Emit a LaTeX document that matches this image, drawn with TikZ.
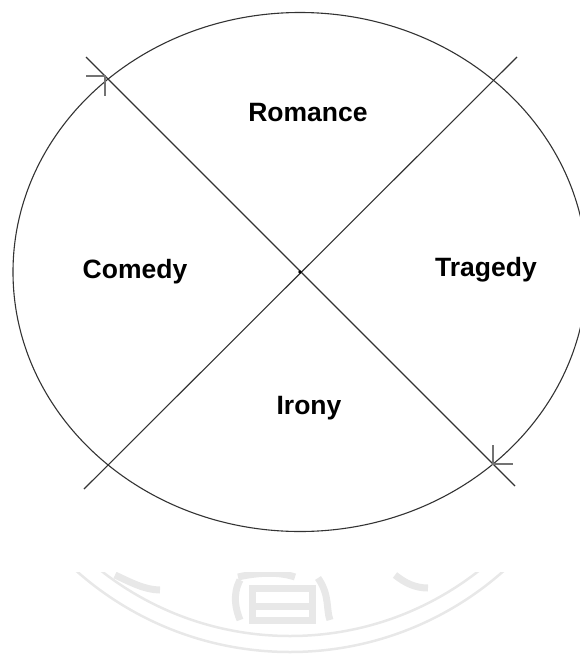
\documentclass[tikz,border=0pt]{standalone}
\usepackage{fontspec}
\setmainfont{Liberation Sans}
\begin{document}
\begin{tikzpicture}[x=1pt,y=-1pt,
  genre/.style={font=\fontsize{26.5}{31}\selectfont\bfseries},
  axis/.style={line width=1.1pt,black!80},
  tick/.style={line width=1.8pt,black!55},
  seal/.style={line width=2.5pt,black!9},
  sealglyph/.style={line width=7pt,black!9}]
  \useasboundingbox (0,0) rectangle (579,656);
  % faint seal below the figure
  \begin{scope}
    \clip (0,572) rectangle (579,656);
    \draw[seal] (290,330) circle (322pt);
    \draw[seal] (290,330) circle (306pt);
    \draw[sealglyph] (115,575) .. controls (130,582) and (145,590) .. (160,590);
    \draw[sealglyph] (395,575) .. controls (405,583) and (415,588) .. (428,588);
    \draw[sealglyph] (238,577) .. controls (260,572) and (280,572) .. (295,577);
    \draw[sealglyph] (240,580) .. controls (232,595) and (236,610) .. (240,620);
    \draw[sealglyph] (252,588) rectangle (312,620);
    \draw[sealglyph] (252,606) -- (312,606);
    \draw[sealglyph] (318,578) .. controls (330,595) and (326,610) .. (330,620);
  \end{scope}
  \coordinate (o) at (300,272);
  \draw[axis] (o) ellipse [x radius=287pt,y radius=259.5pt];
  \coordinate (nw) at (86,57);
  \coordinate (se) at (515,486);
  \coordinate (sw) at (84,489);
  \coordinate (ne) at (517,57);
  \draw[axis] (nw) -- (se);
  \draw[axis] (sw) -- (ne);
  \fill (o) circle (1.8pt);
  % marks where the first axis meets the ellipse
  \coordinate (p1) at (105,76);
  \coordinate (p2) at (493,464);
  \draw[tick] (86,76) -- (p1) -- (105,96);
  \draw[tick] (493,445) -- (p2) -- (513,464);
  \node[genre] (romance) at (308,113) {Romance};
  \node[genre] (comedy) at (135,272) {Comedy};
  \node[genre] (tragedy) at (486,270) {Tragedy};
  \node[genre] (irony) at (309,408) {Irony};
\end{tikzpicture}
\end{document}
